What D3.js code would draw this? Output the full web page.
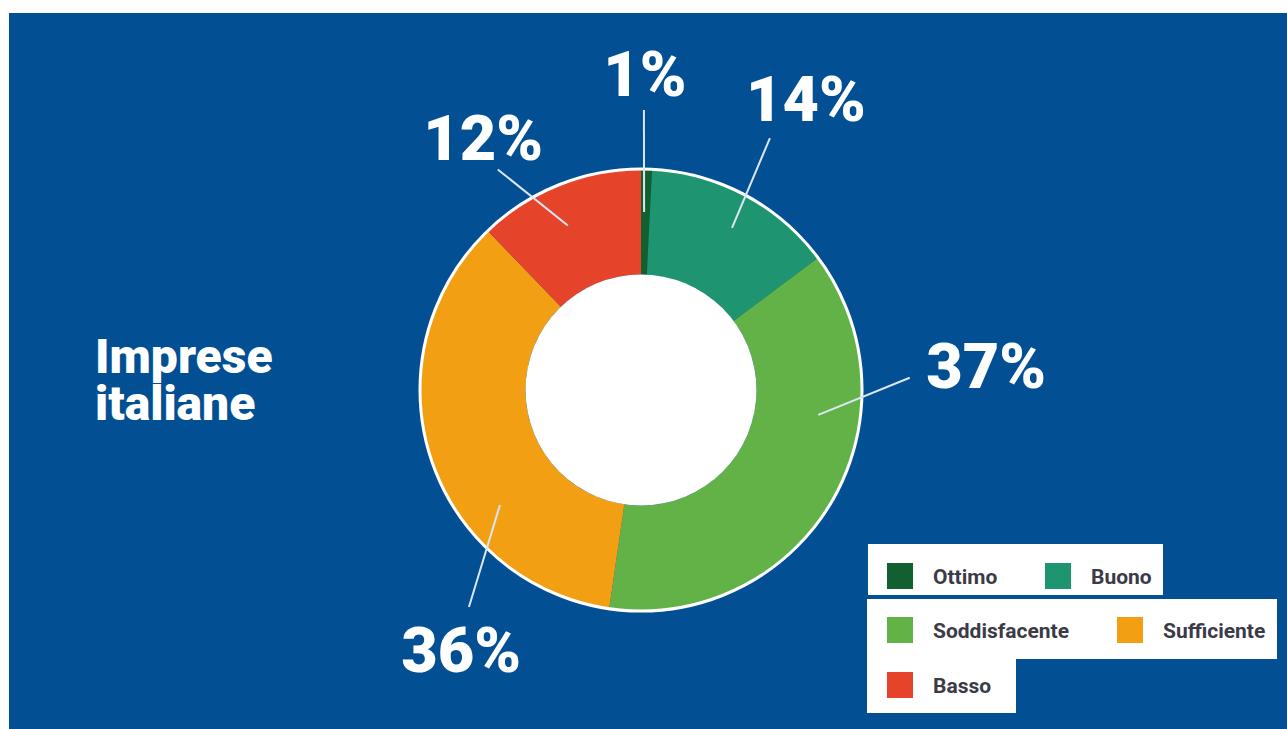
<!DOCTYPE html>
<html>
<head>
<meta charset="utf-8">
<script src="https://cdn.jsdelivr.net/npm/d3@7"></script>
<style>
  body { margin: 0; background: #ffffff; }
  svg { display: block; }
</style>
</head>
<body>
<svg width="1287" height="729"></svg>
<script>
// data
var categories = ["Ottimo", "Buono", "Soddisfacente", "Sufficiente", "Basso"];
var values = [0.8, 14.0, 37.5, 35.5, 12.2];
var labels = ["1%", "14%", "37%", "36%", "12%"];
var colors = ["#12602f", "#1f9471", "#63b247", "#f39f14", "#e5442b"];
var title = ["Imprese", "italiane"];

// layout of leader lines & labels, polar (degrees clockwise from top, radius)
var leaderIn = [[1, 178], [29.3, 186], [98, 179], [230.8, 182], [336, 180]];
var leaderOut = [[0.6, 280], [27.1, 283], [87.4, 269], [218.4, 277], [327, 263]];
var labelPos = [[0.7, 316], [29.5, 335], [86, 346], [214.7, 316], [328, 298]];

var svg = d3.select("svg");
var cx = 641, cy = 390;
var rOuter = 221, rInner = 115.5;

svg.append("rect")
    .attr("x", 9).attr("y", 13)
    .attr("width", 1278).attr("height", 716)
    .attr("fill", "#024f94");

function polar(a, r) {
    var t = a * Math.PI / 180;
    return [cx + r * Math.sin(t), cy - r * Math.cos(t)];
}

var pie = d3.pie().sort(null);
var arc = d3.arc().innerRadius(rInner).outerRadius(rOuter);

var g = svg.append("g").attr("transform", "translate(" + cx + "," + cy + ")");
g.selectAll("path")
    .data(pie(values))
    .enter()
    .append("path")
    .attr("d", arc)
    .style("fill", function(d, i) { return colors[i]; });

g.append("circle").attr("r", rInner).attr("fill", "#ffffff");
g.append("circle").attr("r", rOuter).attr("fill", "none")
    .attr("stroke", "#ffffff").attr("stroke-width", 3);

// leader lines
svg.append("g").selectAll("line")
    .data(labels)
    .enter()
    .append("line")
    .attr("x1", function(d, i) { return polar(leaderIn[i][0], leaderIn[i][1])[0]; })
    .attr("y1", function(d, i) { return polar(leaderIn[i][0], leaderIn[i][1])[1]; })
    .attr("x2", function(d, i) { return polar(leaderOut[i][0], leaderOut[i][1])[0]; })
    .attr("y2", function(d, i) { return polar(leaderOut[i][0], leaderOut[i][1])[1]; })
    .attr("stroke", "#dbe6f4")
    .attr("stroke-width", 2);

// percent labels
svg.append("g").selectAll("text")
    .data(labels)
    .enter()
    .append("text")
    .attr("x", function(d, i) { return polar(labelPos[i][0], labelPos[i][1])[0]; })
    .attr("y", function(d, i) { return polar(labelPos[i][0], labelPos[i][1])[1]; })
    .attr("text-anchor", "middle")
    .attr("dy", "0.355em")
    .attr("font-family", "Roboto, sans-serif")
    .attr("font-weight", 900)
    .attr("font-size", 63)
    .attr("fill", "#ffffff")
    .text(function(d) { return d; });

// title
svg.append("text")
    .attr("x", 95).attr("y", 373)
    .attr("font-family", "Roboto, sans-serif")
    .attr("font-weight", 900)
    .attr("font-size", 48)
    .attr("fill", "#ffffff")
    .selectAll("tspan")
    .data(title)
    .enter()
    .append("tspan")
    .attr("x", 95)
    .attr("dy", function(d, i) { return i === 0 ? 0 : 47; })
    .text(function(d) { return d; });

// legend
var boxes = [[868, 544, 295, 51], [867, 599, 410, 60], [867, 659, 149, 54]];
svg.append("g").selectAll("rect")
    .data(boxes)
    .enter()
    .append("rect")
    .attr("x", function(d) { return d[0]; })
    .attr("y", function(d) { return d[1]; })
    .attr("width", function(d) { return d[2]; })
    .attr("height", function(d) { return d[3]; })
    .attr("fill", "#ffffff");

var legendPos = [[887, 576], [1045, 576], [887, 630], [1117, 630], [887, 685]];
var items = svg.append("g").selectAll("g")
    .data(categories)
    .enter()
    .append("g")
    .attr("transform", function(d, i) { return "translate(" + legendPos[i][0] + "," + legendPos[i][1] + ")"; });

items.append("rect")
    .attr("x", 0).attr("y", -13)
    .attr("width", 26).attr("height", 26)
    .attr("fill", function(d, i) { return colors[i]; });

items.append("text")
    .attr("x", 46)
    .attr("dy", "0.36em")
    .attr("font-family", "Roboto, sans-serif")
    .attr("font-weight", 700)
    .attr("font-size", 21)
    .attr("fill", "#3b3b47")
    .text(function(d) { return d; });
</script>
</body>
</html>
